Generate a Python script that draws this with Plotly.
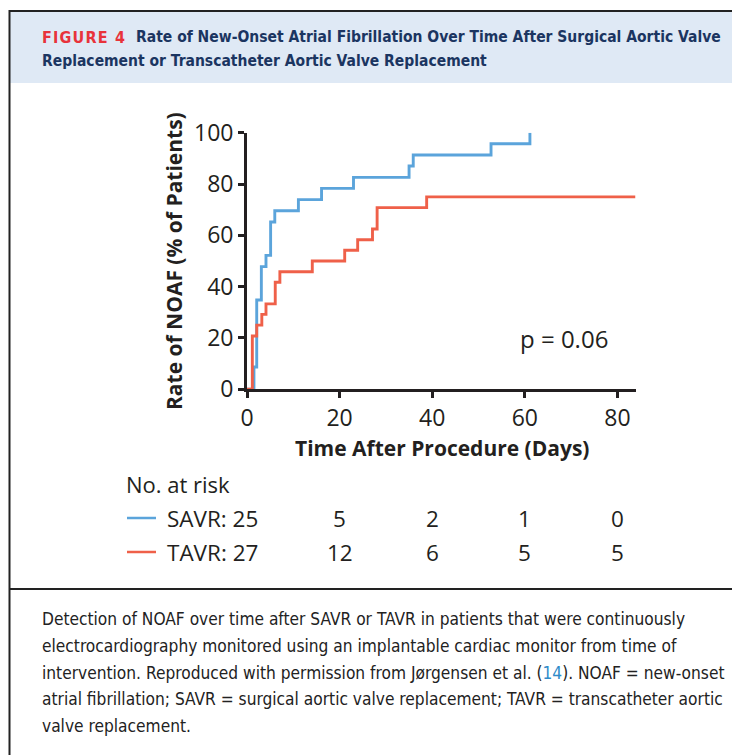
import plotly.graph_objects as go

W, H = 740, 755
OFF = 8  # page body margin

# ---- data ----
savr_days = [0, 1.5, 2.1, 3.1, 4.1, 5.1, 6.0, 11.1, 16.1, 23.0, 35.0, 35.9, 52.7, 61.1]
savr_rate = [0, 8.7, 34.8, 47.8, 52.2, 65.2, 69.6, 73.9, 78.3, 82.6, 87.0, 91.3, 95.7, 100]
tavr_days = [0, 1.15, 2.1, 3.2, 4.1, 6.1, 7.1, 14.1, 21.1, 23.9, 27.1, 28.1, 38.8, 83.9]
tavr_rate = [0, 20.8, 25.0, 29.2, 33.3, 41.7, 45.8, 50.0, 54.2, 58.3, 62.5, 70.8, 75.0, 75.0]
risk_times = [0, 20, 40, 60, 80]
savr_risk = [25, 5, 2, 1, 0]
tavr_risk = [27, 12, 6, 5, 5]
x_ticks = [0, 20, 40, 60, 80]
y_ticks = [0, 20, 40, 60, 80, 100]

BLUE = "#5BA4DB"
RED = "#EF6049"
INK = "#231F20"
NAVY = "#1B3561"
COND = "DejaVu Sans Condensed, Liberation Sans Narrow, Roboto, sans-serif"
MAIN = "Open Sans, Noto Sans, sans-serif"


def px(x):
    return (x - OFF) / W


def py(y):
    return 1 - (y - OFF) / H


fig = go.Figure()
fig.add_trace(go.Scatter(x=savr_days, y=savr_rate, mode="lines", line=dict(color=BLUE, width=2.9, shape="hv"),
                         showlegend=False, hoverinfo="skip"))
fig.add_trace(go.Scatter(x=tavr_days, y=tavr_rate, mode="lines", line=dict(color=RED, width=2.9, shape="hv"),
                         showlegend=False, hoverinfo="skip"))

shapes = []
shapes.append(dict(type="rect", xref="paper", yref="paper", x0=px(10), x1=px(760), y0=py(83), y1=py(12),
                   fillcolor="#DFE9F5", line=dict(width=0), layer="below"))
shapes.append(dict(type="line", xref="paper", yref="paper", x0=px(9.5), x1=px(760), y0=py(11), y1=py(11),
                   line=dict(color="#222222", width=2)))
shapes.append(dict(type="line", xref="paper", yref="paper", x0=px(9.5), x1=px(9.5), y0=py(10), y1=py(770),
                   line=dict(color="#222222", width=2)))
shapes.append(dict(type="line", xref="paper", yref="paper", x0=px(9.5), x1=px(760), y0=py(589), y1=py(589),
                   line=dict(color="#222222", width=2)))
shapes.append(dict(type="line", xref="paper", yref="paper", x0=px(127), x1=px(156), y0=py(518), y1=py(518),
                   line=dict(color=BLUE, width=2.5)))
shapes.append(dict(type="line", xref="paper", yref="paper", x0=px(127), x1=px(156), y0=py(552), y1=py(552),
                   line=dict(color=RED, width=2.5)))

ann = []
ann.append(dict(xref="paper", yref="paper", x=px(40), y=py(37), xanchor="left", yanchor="middle", showarrow=False,
                text="<b><span style='letter-spacing:1.2px'>FIGURE 4</span></b>",
                font=dict(family=COND, size=16, color="#E8333B")))
ann.append(dict(xref="paper", yref="paper", x=px(134), y=py(37), xanchor="left", yanchor="middle", showarrow=False,
                text="<b>Rate of New-Onset Atrial Fibrillation Over Time After Surgical Aortic Valve</b>",
                font=dict(family=COND, size=15.5, color=NAVY)))
ann.append(dict(xref="paper", yref="paper", x=px(40), y=py(61), xanchor="left", yanchor="middle", showarrow=False,
                text="<b>Replacement or Transcatheter Aortic Valve Replacement</b>",
                font=dict(family=COND, size=15.5, color=NAVY)))
ann.append(dict(xref="paper", yref="paper", x=px(442), y=py(448), xanchor="center", yanchor="middle", showarrow=False,
                text="<b>Time After Procedure (Days)</b>", font=dict(family=MAIN, size=21, color=INK)))
ann.append(dict(xref="paper", yref="paper", x=px(174), y=py(261), xanchor="center", yanchor="middle", showarrow=False,
                textangle=-90, text="<b>Rate of NOAF (% of Patients)</b>", font=dict(family=MAIN, size=21, color=INK)))
ann.append(dict(xref="paper", yref="paper", x=px(564), y=py(338), xanchor="center", yanchor="middle", showarrow=False,
                text="p = 0.06", font=dict(family=MAIN, size=24, color=INK)))
ann.append(dict(xref="paper", yref="paper", x=px(124), y=py(484), xanchor="left", yanchor="middle", showarrow=False,
                text="No. at risk", font=dict(family=MAIN, size=22, color=INK)))
for lab, vals, yy in (("SAVR", savr_risk, 518), ("TAVR", tavr_risk, 552)):
    ann.append(dict(xref="paper", yref="paper", x=px(165), y=py(yy), xanchor="left", yanchor="middle",
                    showarrow=False, text=f"{lab}: {vals[0]}", font=dict(family=MAIN, size=22.5, color=INK)))
    for t, v in zip(risk_times[1:], vals[1:]):
        ann.append(dict(xref="x", yref="paper", x=t, y=py(yy), xanchor="center", yanchor="middle",
                        showarrow=False, text=str(v), font=dict(family=MAIN, size=22.5, color=INK)))
cap = [
    "Detection of NOAF over time after SAVR or TAVR in patients that were continuously",
    "electrocardiography monitored using an implantable cardiac monitor from time of",
    "intervention. Reproduced with permission from Jørgensen et al. (<span style='color:#2E8BC9'>14</span>). NOAF = new-onset",
    "atrial fibrillation; SAVR = surgical aortic valve replacement; TAVR = transcatheter aortic",
    "valve replacement.",
]
for i, line in enumerate(cap):
    ann.append(dict(xref="paper", yref="paper", x=px(40), y=py(619 + i * 26.8), xanchor="left", yanchor="middle",
                    showarrow=False, text=line, font=dict(family=COND, size=17.2, color="#222222")))

fig.update_layout(
    width=W, height=H, margin=dict(l=0, r=0, t=0, b=0, pad=0, autoexpand=False),
    paper_bgcolor="white", plot_bgcolor="white",
    shapes=shapes, annotations=ann,
    xaxis=dict(domain=[px(247), px(635.5)], range=[0, 83.9], tickvals=x_ticks, showgrid=False, zeroline=False,
               automargin=False,
               showline=True, linecolor=INK, linewidth=2.8, ticks="outside", ticklen=6, tickwidth=2.8,
               tickcolor=INK, tickfont=dict(family=MAIN, size=23, color=INK)),
    yaxis=dict(domain=[py(389.3), py(132.7)], range=[0, 100], tickvals=y_ticks, showgrid=False, zeroline=False,
               automargin=False,
               showline=True, linecolor=INK, linewidth=2.8, ticks="outside", ticklen=6, tickwidth=2.8,
               tickcolor=INK, tickfont=dict(family=MAIN, size=23, color=INK)),
)

fig.write_html("out.html")
